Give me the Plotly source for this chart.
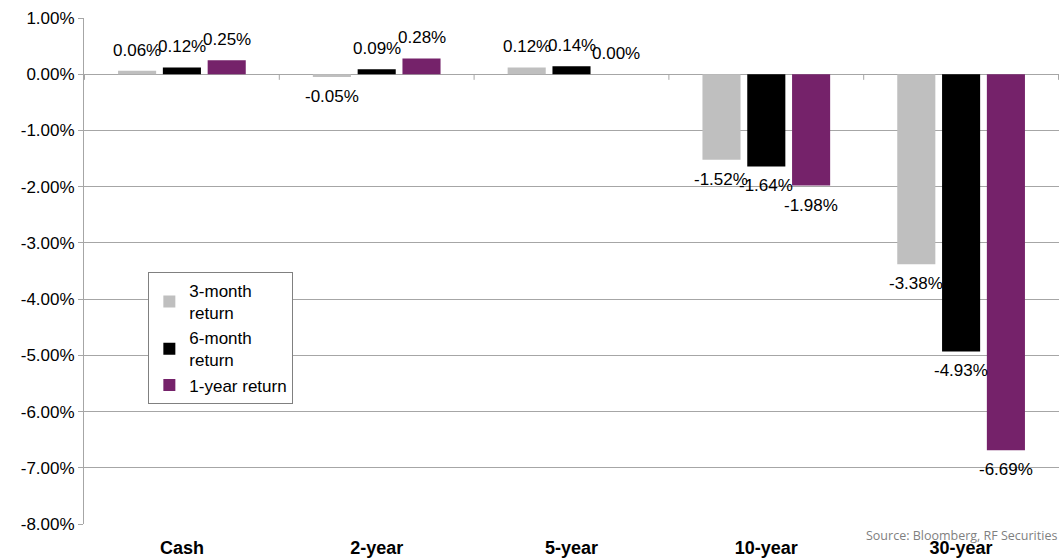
import plotly.graph_objects as go

categories = ["Cash", "2-year", "5-year", "10-year", "30-year"]
series_names = ["3-month<br>return", "6-month<br>return", "1-year return"]
ret_3m = [0.06, -0.05, 0.12, -1.52, -3.38]
ret_6m = [0.12, 0.09, 0.14, -1.64, -4.93]
ret_1y = [0.25, 0.28, 0.00, -1.98, -6.69]
colors = ["#BFBFBF", "#000000", "#75226A"]
y_ticks = [1, 0, -1, -2, -3, -4, -5, -6, -7, -8]

W, H = 1061, 560
ML, MR, MT, MB = 84, 2, 18, 36
BARGAP = 0.31
cat_px = (W - ML - MR) / len(categories)
slot_px = cat_px * (1 - BARGAP) / 3

fig = go.Figure()
annotations = []
for k, (name, vals, col) in enumerate(zip(series_names, [ret_3m, ret_6m, ret_1y], colors)):
    fig.add_trace(go.Bar(
        x=categories, y=vals, name=name, marker_color=col,
        marker_line_width=0,
    ))
    for c, v in zip(categories, vals):
        neg = v < 0
        annotations.append(dict(
            x=c, y=v, xref="x", yref="y", text=f"{v:.2f}%", showarrow=False,
            xshift=(k - 1) * slot_px, yshift=-8 if neg else 9,
            yanchor="top" if neg else "bottom",
            font=dict(family="Liberation Sans, Arial", size=17, color="#000000"),
        ))

grid = "#A6A6A6"
shapes = []
for i in range(len(categories) + 1):
    shapes.append(dict(type="line", xref="x", yref="y", x0=i - 0.5, x1=i - 0.5,
                       y0=0, y1=-0.1, line=dict(color=grid, width=1)))

annotations.append(dict(
    text="Source: Bloomberg, RF Securities", xref="paper", yref="paper",
    x=1, y=0, xanchor="right", yanchor="top", yshift=-1, showarrow=False,
    font=dict(family="Open Sans, DejaVu Sans", size=12.5, color="#7F7F7F"),
))

fig.update_layout(
    width=W, height=H,
    margin=dict(l=ML, r=MR, t=MT, b=MB),
    paper_bgcolor="white", plot_bgcolor="white",
    barmode="group", bargap=BARGAP, bargroupgap=0.15,
    font=dict(family="Liberation Sans, Arial", size=17, color="#000000"),
    shapes=shapes, annotations=annotations,
    legend=dict(
        x=0.066, y=0.498, xanchor="left", yanchor="top",
        bgcolor="white", bordercolor="#808080", borderwidth=1,
        font=dict(family="Liberation Sans, Arial", size=17, color="#000000"),
        itemwidth=30, tracegroupgap=0,
    ),
    showlegend=True,
)
fig.update_yaxes(
    range=[-8, 1], tickvals=y_ticks,
    ticktext=[f"{v:.2f}%" for v in y_ticks],
    showgrid=True, gridcolor=grid, gridwidth=1,
    zeroline=True, zerolinecolor=grid, zerolinewidth=1,
    showline=True, linecolor=grid, linewidth=1,
    ticks="outside", ticklen=5, tickcolor=grid,
    tickfont=dict(size=17, color="#000000"),
)
fig.update_xaxes(
    showline=False, showgrid=False, ticks="",
    tickfont=dict(family="Liberation Sans, Arial", size=18, color="#000000", weight="bold"),
    ticklabelstandoff=11,
)

fig.write_html("out.html")
